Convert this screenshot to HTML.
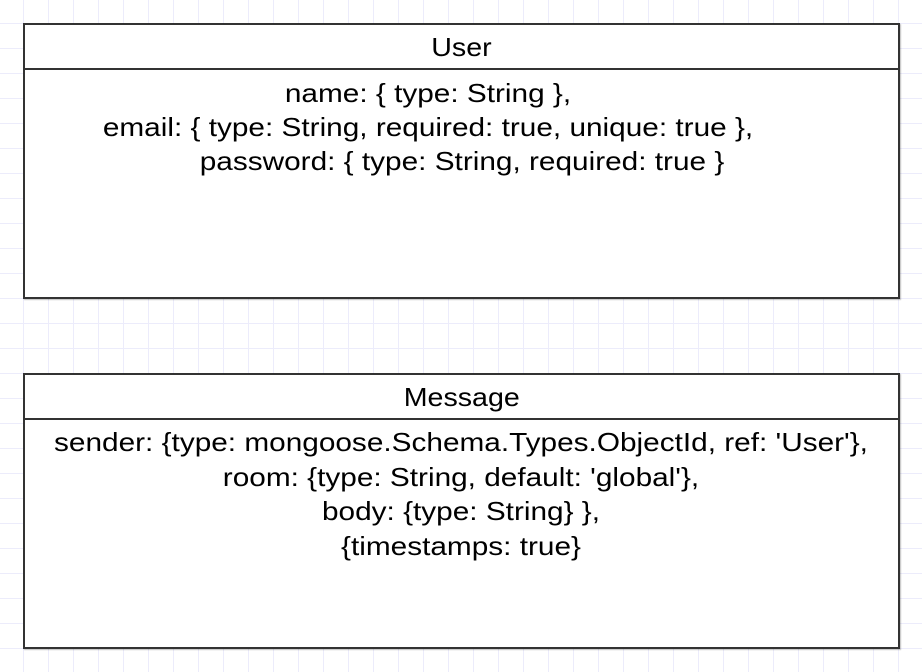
<!DOCTYPE html>
<html><head><style>
body{margin:0;width:922px;height:672px;overflow:hidden;background:#fff;
background-image:linear-gradient(#ececfb 1px,transparent 1px),linear-gradient(90deg,#ececfb 1px,transparent 1px);
background-size:25px 25px;background-position:23px 23px;font-family:"Liberation Sans",sans-serif;color:#000}
.box{position:absolute;left:23px;width:873px;border:2px solid #333;background:#fff;box-shadow:1px 1px 1px rgba(0,0,0,.25)}
.h{height:43px;border-bottom:2px solid #333;text-align:center;font-size:26px;line-height:44px}
.t{position:absolute;white-space:nowrap;font-size:26px;line-height:30px;transform:translateX(-50%) scaleX(1.145)}
</style></head><body>
<div class="box" style="top:23px;height:272px">
<div class="h"><span style="display:inline-block;transform:scaleX(1.1)">User</span></div>
</div>
<div class="t" style="left:428px;top:78px">name: { type: String },</div>
<div class="t" style="left:428px;top:112px">email: { type: String, required: true, unique: true },</div>
<div class="t" style="left:462px;top:146px">password: { type: String, required: true }</div>
<div class="box" style="top:373px;height:272px">
<div class="h"><span style="display:inline-block;transform:scaleX(1.1)">Message</span></div>
</div>
<div class="t" style="left:461px;top:427px">sender: {type: mongoose.Schema.Types.ObjectId, ref: 'User'},</div>
<div class="t" style="left:461px;top:462px">room: {type: String, default: 'global'},</div>
<div class="t" style="left:461px;top:496px">body: {type: String} },</div>
<div class="t" style="left:461px;top:531px">{timestamps: true}</div>
</body></html>
